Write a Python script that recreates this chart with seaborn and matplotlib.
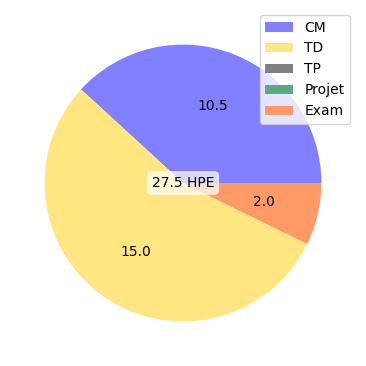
import matplotlib
matplotlib.use("Agg")
import matplotlib.pyplot as plt
import seaborn as sns

categories = ["CM", "TD", "TP", "Projet", "Exam"]
hours = [10.5, 15.0, 0.0, 0.0, 2.0]
colors = ["#8080ff", "#ffe680", "#808080", "#5aaa80", "#ff9966"]
total_label = "27.5 HPE"

palette = sns.color_palette(colors)
total = sum(hours)

def show_value(pct):
    v = pct * total / 100
    return f"{v:.1f}" if v > 0.01 else ""

fig = plt.figure(figsize=(3.66, 3.66), dpi=100)
# pie uses limits of +-1.25, radius ~138 px centred at (183, 183)
ax = fig.add_axes([10 / 366, 10 / 366, 346 / 366, 346 / 366])
wedges, texts, autotexts = ax.pie(hours, colors=palette, autopct=show_value,
                                  pctdistance=0.6, startangle=0,
                                  wedgeprops=dict(linewidth=0))
ax.set_aspect("equal")

ax.text(0, 0, total_label, ha="center", va="center", fontsize=10,
        bbox=dict(boxstyle="round", facecolor="white", edgecolor="white", alpha=0.7))

fig.legend(wedges, categories, loc="upper right", bbox_to_anchor=(357 / 366, 1 - 8 / 366))

fig.savefig("out.png", dpi=100)
